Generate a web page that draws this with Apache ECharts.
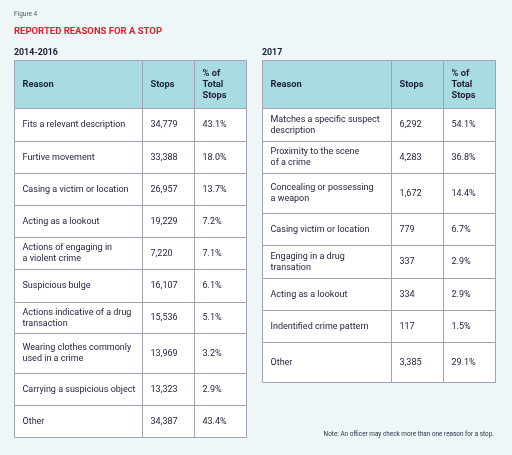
<!DOCTYPE html>
<html><head><meta charset="utf-8">
<script src="https://cdn.jsdelivr.net/npm/echarts@6/dist/echarts.min.js"></script>
<style>html,body{margin:0;padding:0;background:#eef6f8;}#c{width:512px;height:455px;}</style>
</head><body><div id="c"></div>
<script>
// ---- data ----
const headers = ['Reason', 'Stops', '% of\nTotal\nStops'];
const reasons2014 = ['Fits a relevant description', 'Furtive movement', 'Casing a victim or location', 'Acting as a lookout', 'Actions of engaging in\na violent crime', 'Suspicious bulge', 'Actions indicative of a drug\ntransaction', 'Wearing clothes commonly\nused in a crime', 'Carrying a suspicious object', 'Other'];
const stops2014 = [34779, 33388, 26957, 19229, 7220, 16107, 15536, 13969, 13323, 34387];
const pct2014 = [43.1, 18.0, 13.7, 7.2, 7.1, 6.1, 5.1, 3.2, 2.9, 43.4];
const reasons2017 = ['Matches a specific suspect\ndescription', 'Proximity to the scene\nof a crime', 'Concealing or possessing\na weapon', 'Casing victim or location', 'Engaging in a drug\ntransation', 'Acting as a lookout', 'Indentified crime pattern', 'Other'];
const stops2017 = [6292, 4283, 1672, 779, 337, 334, 117, 3385];
const pct2017 = [54.1, 36.8, 14.4, 6.7, 2.9, 2.9, 1.5, 29.1];

// ---- layout (not data) ----
const FONT = 'Roboto, "Noto Sans", sans-serif';
const TXT = '#1e1e3c';
const layouts = [
  {left: 14, top: 60, colEdges: [0, 128, 180, 232], rowEdges: [0, 48, 81, 113, 145, 177, 209, 242, 273, 313, 345, 377]},
  {left: 262, top: 60, colEdges: [0, 129, 181, 233], rowEdges: [0, 48, 81, 113, 153, 185, 218, 250, 282, 322]}
];
function fmtStops(v) { return v.toLocaleString('en-US'); }
function fmtPct(v) { return v.toFixed(1) + '%'; }
function buildCells(reasons, stops, pct) {
  const cells = [];
  headers.forEach((h, c) => cells.push([0, c, h]));
  reasons.forEach((r, i) => {
    cells.push([i + 1, 0, r]);
    cells.push([i + 1, 1, fmtStops(stops[i])]);
    cells.push([i + 1, 2, fmtPct(pct[i])]);
  });
  return cells;
}
const tables = [buildCells(reasons2014, stops2014, pct2014), buildCells(reasons2017, stops2017, pct2017)];

const grids = [], xAxes = [], yAxes = [], series = [];
layouts.forEach((L, t) => {
  const w = L.colEdges[L.colEdges.length - 1], h = L.rowEdges[L.rowEdges.length - 1];
  grids.push({left: L.left, top: L.top, width: w, height: h});
  xAxes.push({type: 'value', gridIndex: t, min: 0, max: w, show: false});
  yAxes.push({type: 'value', gridIndex: t, min: 0, max: h, inverse: true, show: false});
  const cells = tables[t];
  series.push({
    type: 'custom', xAxisIndex: t, yAxisIndex: t, clip: false,
    data: cells.map(c => [c[1], c[0]]),
    renderItem: function (params, api) {
      const cell = cells[params.dataIndex];
      const r = cell[0], c = cell[1];
      const p0 = api.coord([L.colEdges[c], L.rowEdges[r]]);
      const p1 = api.coord([L.colEdges[c + 1], L.rowEdges[r + 1]]);
      const x0 = Math.round(p0[0]) + 0.5, y0 = Math.round(p0[1]) + 0.5;
      const x1 = Math.round(p1[0]) + 0.5, y1 = Math.round(p1[1]) + 0.5;
      const header = r === 0;
      return {
        type: 'group',
        children: [
          {type: 'rect', shape: {x: x0, y: y0, width: x1 - x0, height: y1 - y0},
            style: {fill: header ? '#a8dce2' : '#ffffff', stroke: '#a0a3b6', lineWidth: 1}},
          {type: 'text', style: {text: cell[2], x: x0 + 8, y: (y0 + y1) / 2,
            verticalAlign: 'middle', align: 'left', fill: TXT,
            fontFamily: FONT, fontSize: header ? 9.3 : 9, fontWeight: header ? 'bold' : 'normal', lineHeight: 11}}
        ]
      };
    }
  });
});

const chart = echarts.init(document.getElementById('c'));
chart.setOption({
  backgroundColor: '#eef6f8',
  animation: false,
  title: [
    {text: 'Figure 4', left: 14, top: 11, padding: 0, textStyle: {fontFamily: FONT, fontSize: 6.5, fontWeight: 'normal', color: '#555566'}},
    {text: 'REPORTED REASONS FOR A STOP', left: 14, top: 27, padding: 0, textStyle: {fontFamily: FONT, fontSize: 9.5, fontWeight: 'bold', color: '#e4202c'}},
    {text: '2014-2016', left: 14, top: 48, padding: 0, textStyle: {fontFamily: FONT, fontSize: 8.8, fontWeight: 'bold', color: '#1a1a2e'}},
    {text: '2017', left: 262, top: 48, padding: 0, textStyle: {fontFamily: FONT, fontSize: 8.8, fontWeight: 'bold', color: '#1a1a2e'}},
    {text: 'Note: An officer may check more than one reason for a stop.', right: 18, top: 431, padding: 0, textStyle: {fontFamily: FONT, fontSize: 6.4, fontWeight: 'normal', color: '#333344'}}
  ],
  grid: grids, xAxis: xAxes, yAxis: yAxes, series: series
});
</script></body></html>
